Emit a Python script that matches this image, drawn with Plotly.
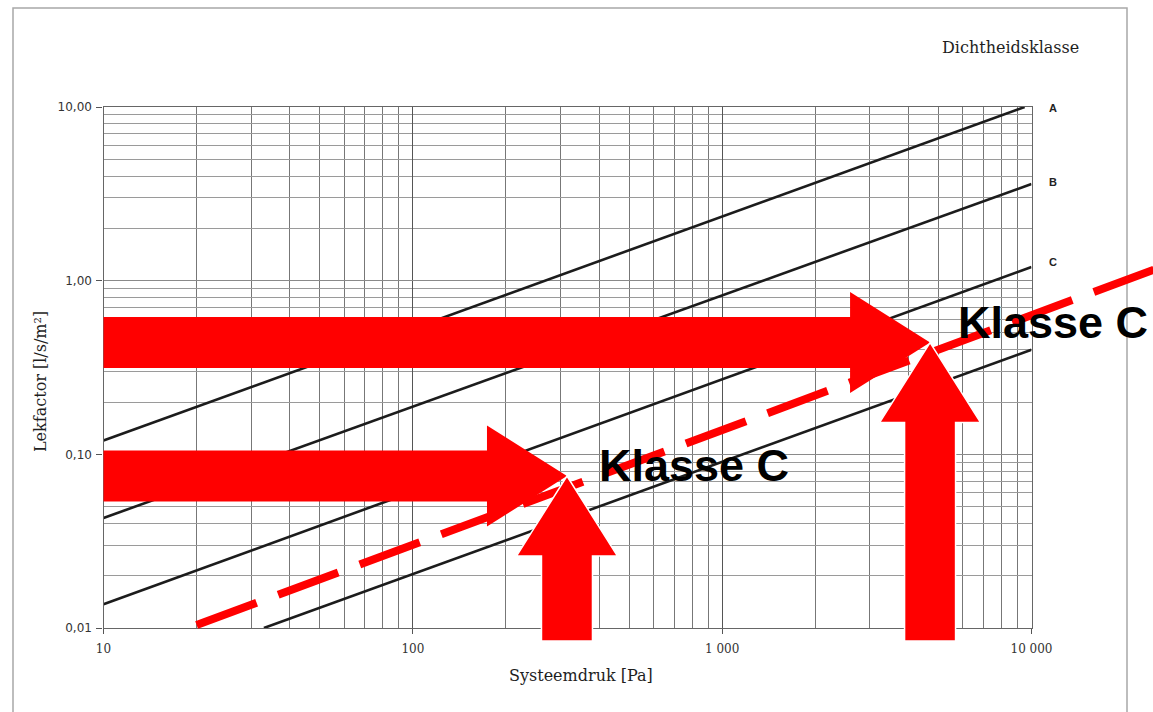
import numpy as np
import plotly.graph_objects as go

W, H = 1153, 712

# ---- axis ticks -------------------------------------------------------------
pressure_ticks = [10, 100, 1000, 10000]
pressure_labels = ["10", "100", "1 000", "10 000"]
leak_ticks = [0.01, 0.1, 1, 10]
leak_labels = ["0,01", "0,10", "1,00", "10,00"]

# ---- leakage class lines (pressure [Pa], leak factor [l/s/m2]) -------------
class_a_p = [10, 9500]
class_a_f = [0.12, 10.0]
class_b_p = [10, 10000]
class_b_f = [0.043, 3.6]
class_c_p = [10, 10000]
class_c_f = [0.0137, 1.2]
class_d_p = [33, 10000]
class_d_f = [0.01, 0.40]
class_labels = ["A", "B", "C"]

# ---- red overlay: required class C line and two operating points ----------
required_p = [20, 25000]
required_f = [0.0104, 1.16]
point_p = [315, 4700]
point_f = [0.075, 0.44]
point_text = ["Klasse C", "Klasse C"]

# ---- layout geometry --------------------------------------------------------
x_dom = [103.5 / W, 1031.5 / W]
y_dom = [1 - 628 / H, 1 - 107 / H]
x_rng = [1.0, 4.0]
y_rng = [-2.0, 1.0]

# full-figure overlay axes sharing the same log scale as the chart axes
xpp = (x_rng[1] - x_rng[0]) / (x_dom[1] - x_dom[0])
ypp = (y_rng[1] - y_rng[0]) / (y_dom[1] - y_dom[0])
x2_rng = [x_rng[0] - x_dom[0] * xpp, x_rng[1] + (1 - x_dom[1]) * xpp]
y2_rng = [y_rng[0] - y_dom[0] * ypp, y_rng[1] + (1 - y_dom[1]) * ypp]
sx = (x2_rng[1] - x2_rng[0]) / W   # decades per pixel
sy = (y2_rng[1] - y2_rng[0]) / H

SHAFT = 51
HEAD_W = 101
HEAD_L = 80
RED = "#ff0000"


def right_arrow(tx, ty, tail_x):
    h = SHAFT / 2 * sy
    hh = HEAD_W / 2 * sy
    L = HEAD_L * sx
    xs = [tail_x, tx - L, tx - L, tx, tx - L, tx - L, tail_x, tail_x]
    ys = [ty - h, ty - h, ty - hh, ty, ty + hh, ty + h, ty + h, ty - h]
    return np.power(10, xs), np.power(10, ys)


def up_arrow(tx, ty, tail_y):
    h = SHAFT / 2 * sx
    hh = HEAD_W / 2 * sx
    L = HEAD_L * sy
    xs = [tx - h, tx - h, tx - hh, tx, tx + hh, tx + h, tx + h, tx - h]
    ys = [tail_y, ty - L, ty - L, ty, ty - L, ty - L, tail_y, tail_y]
    return np.power(10, xs), np.power(10, ys)


fig = go.Figure()

# class lines
for p, f in [(class_a_p, class_a_f), (class_b_p, class_b_f),
             (class_c_p, class_c_f), (class_d_p, class_d_f)]:
    fig.add_trace(go.Scatter(x=p, y=f, mode="lines",
                             line=dict(color="#1c1c1c", width=2.6),
                             xaxis="x", yaxis="y", hoverinfo="skip",
                             showlegend=False))

# dashed red line
fig.add_trace(go.Scatter(x=required_p, y=required_f, mode="lines",
                         line=dict(color=RED, width=8, dash="64px,23px"),
                         xaxis="x2", yaxis="y2", hoverinfo="skip",
                         showlegend=False))

# block arrows pointing at the two class C points
tail_left = np.log10(pressure_ticks[0])
tail_bottom = np.log10(leak_ticks[0]) - 13 * sy
for p, f in zip(point_p, point_f):
    ax_, ay_ = right_arrow(np.log10(p), np.log10(f), tail_left)
    fig.add_trace(go.Scatter(x=ax_, y=ay_, mode="lines", fill="toself",
                             fillcolor=RED, line=dict(color="rgba(0,0,0,0)", width=0),
                             xaxis="x2", yaxis="y2", hoverinfo="skip",
                             showlegend=False))
for p, f in zip(point_p, point_f):
    ax_, ay_ = up_arrow(np.log10(p), np.log10(f), tail_bottom)
    fig.add_trace(go.Scatter(x=ax_, y=ay_, mode="lines", fill="toself",
                             fillcolor=RED, line=dict(color="white", width=1.5),
                             xaxis="x2", yaxis="y2", hoverinfo="skip",
                             showlegend=False))

annotations = []
# class letters at the right end of the lines
for lab, f, ys in zip(class_labels, [class_a_f, class_b_f, class_c_f], [-1, 2, 5]):
    annotations.append(dict(x=np.log10(pressure_ticks[-1]), y=np.log10(f[-1]),
                            xref="x2", yref="y2", text=lab, showarrow=False,
                            xshift=21, yshift=ys,
                            font=dict(family="Liberation Sans", size=11,
                                      color="#222", weight="bold")))
# "Klasse C" labels
for p, f, t, xs, ys in zip(point_p, point_f, point_text, [30, 26], [11, 20]):
    annotations.append(dict(x=np.log10(p), y=np.log10(f), xref="x2", yref="y2",
                            text=t, showarrow=False, xanchor="left",
                            yanchor="middle", xshift=xs, yshift=ys,
                            font=dict(family="Liberation Sans", size=45,
                                      color="black", weight="bold")))
# titles
serif = dict(family="DejaVu Serif", size=16, color="#1e1e1e")
annotations.append(dict(x=1010 / W, y=1 - 47 / H, xref="paper", yref="paper",
                        text="Dichtheidsklasse", showarrow=False,
                        xanchor="center", yanchor="middle", font=serif))
annotations.append(dict(x=581 / W, y=1 - 675 / H, xref="paper", yref="paper",
                        text="Systeemdruk [Pa]", showarrow=False,
                        xanchor="center", yanchor="middle", font=serif))
annotations.append(dict(x=40 / W, y=1 - 382 / H, xref="paper", yref="paper",
                        text="Lekfactor [l/s/m²]", showarrow=False, textangle=-90,
                        xanchor="center", yanchor="middle", font=serif))

x_minor = [m * 10 ** e for e in (1, 2, 3) for m in range(2, 10)]
y_minor = [m * 10 ** e for e in (-2, -1, 0) for m in range(2, 10)]

fig.update_layout(
    width=W, height=H,
    margin=dict(l=0, r=0, t=0, b=0, autoexpand=False),
    paper_bgcolor="white",
    plot_bgcolor="rgba(0,0,0,0)",
    showlegend=False,
    xaxis=dict(type="log", range=x_rng, domain=x_dom, anchor="y",
               automargin=False,
               tickmode="array", tickvals=pressure_ticks, ticktext=pressure_labels,
               ticks="outside", ticklen=5, tickcolor="#555", tickwidth=1.2,
               ticklabelstandoff=4,
               tickfont=dict(family="DejaVu Serif", size=12, color="#333"),
               showgrid=True, gridcolor="#555", gridwidth=1.4,
               showline=True, mirror=True, linecolor="#666", linewidth=1.3,
               zeroline=False,
               minor=dict(tickmode="array", tickvals=x_minor, showgrid=True,
                          gridcolor="#777", gridwidth=1.3, ticks="")),
    yaxis=dict(type="log", range=y_rng, domain=y_dom, anchor="x",
               automargin=False,
               tickmode="array", tickvals=leak_ticks, ticktext=leak_labels,
               ticks="outside", ticklen=6, tickcolor="#555", tickwidth=1.2,
               ticklabelstandoff=2,
               tickfont=dict(family="DejaVu Sans", size=12, color="#333"),
               showgrid=True, gridcolor="#8a8a8a", gridwidth=1.3,
               showline=True, mirror=True, linecolor="#666", linewidth=1.3,
               zeroline=False,
               minor=dict(tickmode="array", tickvals=y_minor, showgrid=True,
                          gridcolor="#9a9a9a", gridwidth=1.3, ticks="")),
    xaxis2=dict(type="log", range=x2_rng, domain=[0, 1], anchor="y2",
                automargin=False, visible=False, fixedrange=True),
    yaxis2=dict(type="log", range=y2_rng, domain=[0, 1], anchor="x2",
                automargin=False, visible=False, fixedrange=True),
    annotations=annotations,
    shapes=[dict(type="rect", xref="paper", yref="paper",
                 x0=13 / W, x1=1127 / W, y0=-0.05, y1=1 - 8 / H,
                 line=dict(color="#a8a8a8", width=1.5), layer="below")],
)

fig.write_html("out.html")
